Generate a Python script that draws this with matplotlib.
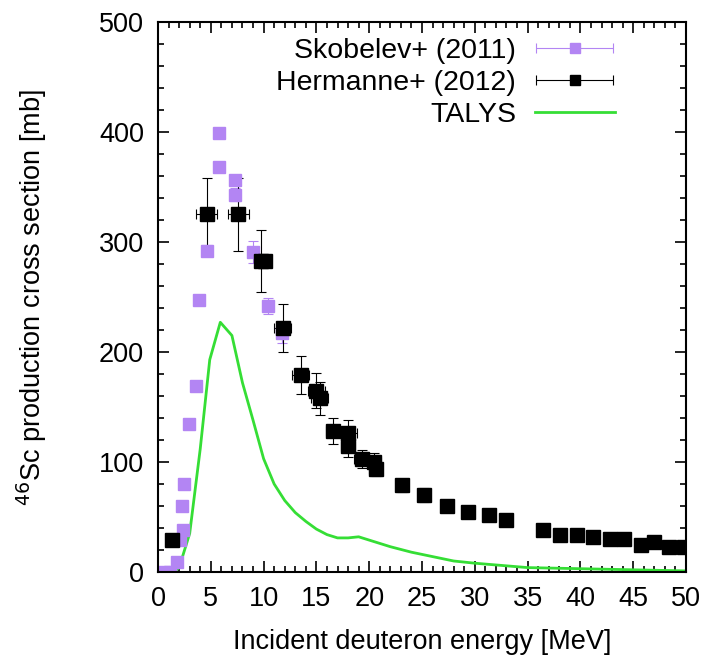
import matplotlib
matplotlib.use("Agg")
from matplotlib import pyplot as plt
from matplotlib.container import ErrorbarContainer
from matplotlib.legend_handler import HandlerErrorbar
import matplotlib.ticker as ticker

plt.rcParams['font.family'] = ['Liberation Sans', 'DejaVu Sans']

# Skobelev+ (2011)
sko_x = [0.6, 1.1, 1.8, 2.1, 2.4, 2.3, 2.5, 2.9, 3.6, 3.9, 4.6, 5.8, 5.8, 7.3, 7.3, 9.0, 10.4, 11.7]
sko_y = [0, 0, 9, 29, 38, 60, 80, 135, 169, 247, 292, 368, 399, 356, 343, 291, 242, 217]
sko_yerr = [0, 0, 1, 2, 2, 3, 3, 4, 4, 4, 5, 4, 4, 4, 6, 10, 7, 9]
sko_xerr = [0.1] * len(sko_x)

# Hermanne+ (2012)
her_x = [1.3, 4.6, 7.6, 9.8, 10.1, 11.8, 13.5, 15.0, 15.3, 16.6, 18.0, 18.0, 19.3, 20.5, 20.6,
         23.1, 25.2, 27.4, 29.4, 31.3, 33.0, 36.5, 38.1, 39.7, 41.2, 42.8, 44.1, 45.7, 47.0,
         48.4, 49.8]
her_y = [29, 325, 325, 283, 283, 222, 179, 165, 158, 128, 126, 115, 103, 100, 94,
         79, 70, 60, 55, 52, 47, 38, 34, 34, 32, 30, 30, 25, 27, 23, 23]
her_yerr = [3, 33, 33, 28, 5, 22, 17, 16, 15, 12, 12, 10, 8, 8, 7,
            6, 6, 5, 4, 4, 4, 3, 3, 3, 3, 3, 3, 2, 2, 2, 2]
her_xerr = [0.3, 1.0, 1.0, 0.4, 0.6, 0.8, 0.8, 0.8, 0.8, 0.7, 0.8, 0.7, 0.7, 0.6, 0.6,
            0.6, 0.6, 0.5, 0.5, 0.4, 0.4, 0.3, 0.3, 0.3, 0.3, 0.3, 0.3, 0.3, 0.3, 0.3, 0.3]

# TALYS
tal_x = [0, 1.5, 2.0, 3.0, 4.0, 4.9, 5.9, 7.0, 8.0, 9.0, 10.0, 11.0, 12.0, 13.0, 14.0, 15.0,
         16.0, 17.0, 18.0, 19.0, 20.0, 22.0, 24.0, 26.0, 28.0, 30.0, 35.0, 40.0, 45.0, 50.0]
tal_y = [0, 0, 4, 35, 112, 193, 227, 215, 172, 138, 103, 80, 65, 54, 46, 39,
         34, 31, 31, 32, 29, 23, 18, 14, 10, 8, 4, 3, 2, 1]

purple = '#b385f3'
green = '#35de35'
fs = 19.5

fig = plt.figure(figsize=(7.10, 6.68), dpi=100)
ax = fig.add_axes([158/710, 1-572/668, 528/710, 550/668])

sko = ax.errorbar(sko_x, sko_y, yerr=sko_yerr, xerr=sko_xerr, fmt='s', color=purple,
                  ms=9, elinewidth=0.8, capsize=3.5, capthick=0.8)
her = ax.errorbar(her_x, her_y, yerr=her_yerr, xerr=her_xerr, fmt='s', color='black',
                  ms=9.5, elinewidth=0.8, capsize=3.5, capthick=0.8)
tal, = ax.plot(tal_x, tal_y, color=green, lw=2)

# legend shows only horizontal error bars
h_sko = ErrorbarContainer((sko[0], sko[1], sko[2]), has_xerr=True, has_yerr=False)
h_her = ErrorbarContainer((her[0], her[1], her[2]), has_xerr=True, has_yerr=False)
eb_handler = HandlerErrorbar(xerr_size=1.35, marker_pad=0.3)
leg = ax.legend([h_sko, h_her, tal], ['Skobelev+ (2011)', 'Hermanne+ (2012)', 'TALYS'],
                loc='upper right', bbox_to_anchor=(0.892, 0.996), frameon=False,
                markerfirst=False, fontsize=20.5, handlelength=2.8, handletextpad=0.67,
                labelspacing=0.2, borderpad=0, markerscale=0.8,
                handler_map={h_sko: eb_handler, h_her: eb_handler})

ax.set_xlim(0, 50)
ax.set_ylim(0, 500)
ax.xaxis.set_major_locator(ticker.MultipleLocator(5))
ax.xaxis.set_minor_locator(ticker.MultipleLocator(1))
ax.yaxis.set_major_locator(ticker.MultipleLocator(100))
ax.yaxis.set_minor_locator(ticker.MultipleLocator(20))
ax.tick_params(which='both', direction='in', top=True, right=True, labelsize=fs, width=1.2)
ax.tick_params(which='major', length=8, pad=10)
ax.tick_params(which='minor', length=4)
for s in ax.spines.values():
    s.set_linewidth(1.5)

ax.set_xlabel('Incident deuteron energy [MeV]', fontsize=fs, labelpad=12)
ax.set_ylabel('$^{46}$Sc production cross section [mb]', fontsize=fs, labelpad=36)

fig.savefig('out.png', dpi=100)
